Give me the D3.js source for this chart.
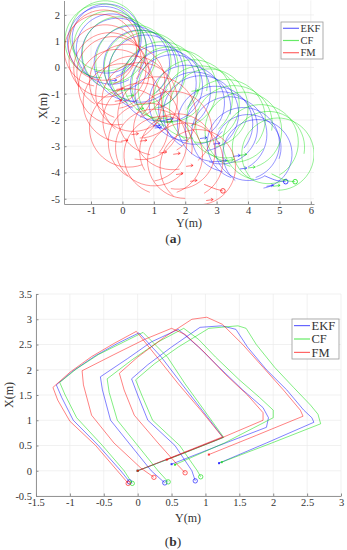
<!DOCTYPE html>
<html>
<head>
<meta charset="utf-8">
<script src="https://cdn.jsdelivr.net/npm/d3@7/dist/d3.min.js"></script>
<style>
  body { margin: 0; background: #fff; }
  text { font-family: 'Liberation Serif', 'DejaVu Serif', serif; fill: #333; }
</style>
</head>
<body>
<svg id="fig" width="347" height="550"></svg>
<script>
const seriesNames = ['EKF', 'CF', 'FM']
const seriesColors = ['#0000ff', '#00dd00', '#ff0000']

// ---- panel (a): circular walks ----
const aXTicks = [-1, 0, 1, 2, 3, 4, 5, 6]
const aYTicks = [-5, -4, -3, -2, -1, 0, 1, 2]

// [centre Y, centre X, radius (Y units), start deg, end deg]
const ekfLoops = [
  [-0.60, 0.95, 1.15, 100, 430], [-0.50, 1.10, 1.10, 150, 470], [-0.35, 0.70, 1.12, 60, 400],
  [-0.15, 0.50, 1.15, 120, 440], [0.30, 0.15, 1.20, 80, 410], [0.55, 0.05, 1.15, 40, 360],
  [0.75, -0.20, 1.20, 110, 430], [1.15, -0.60, 1.20, 70, 400], [1.40, -0.70, 1.15, 150, 460],
  [1.60, -0.95, 1.20, 100, 420], [2.05, -1.35, 1.20, 90, 410], [2.30, -1.55, 1.15, 40, 370],
  [2.50, -1.75, 1.20, 120, 440], [2.95, -2.15, 1.20, 80, 400], [3.15, -2.30, 1.15, 160, 470],
  [3.40, -2.55, 1.20, 100, 420], [3.85, -2.90, 1.15, 110, 430], [4.00, -3.05, 1.05, 60, 380],
  [4.30, -3.30, 1.10, 130, 440]
]
const cfLoops = [
  [-0.65, 1.02, 1.18, 90, 420], [-0.55, 1.20, 1.12, 40, 370], [-0.40, 0.78, 1.15, 130, 450],
  [-0.10, 0.52, 1.18, 70, 400], [0.35, 0.20, 1.20, 100, 420], [0.60, 0.00, 1.18, 150, 460],
  [0.80, -0.12, 1.22, 120, 440], [1.25, -0.48, 1.22, 80, 410], [1.50, -0.65, 1.20, 40, 370],
  [1.75, -0.82, 1.25, 110, 430], [2.25, -1.20, 1.25, 90, 410], [2.50, -1.40, 1.22, 150, 460],
  [2.75, -1.55, 1.25, 120, 440], [3.30, -1.95, 1.25, 80, 400], [3.55, -2.15, 1.22, 40, 370],
  [3.85, -2.40, 1.22, 110, 430], [4.40, -2.85, 1.20, 100, 420], [4.65, -3.05, 1.15, 60, 370],
  [4.95, -3.30, 1.15, 140, 450]
]
const fmLoops = [
  [-0.70, 0.65, 1.15, 100, 430], [-0.60, 0.85, 1.12, 30, 360], [-0.55, 0.25, 1.15, 60, 390],
  [-0.40, -0.05, 1.15, 150, 470], [-0.30, -0.20, 1.15, 120, 440], [-0.20, -0.75, 1.20, 80, 410],
  [0.15, -0.55, 1.20, 110, 430], [0.35, -1.00, 1.20, 40, 370], [0.00, -1.35, 1.25, 90, 420],
  [0.55, -1.25, 1.20, 130, 450], [0.20, -2.30, 1.25, 70, 400], [0.60, -2.05, 1.22, 150, 460],
  [1.10, -1.85, 1.25, 100, 420], [0.80, -2.85, 1.25, 120, 440], [1.00, -3.05, 1.22, 40, 370],
  [1.60, -2.40, 1.25, 80, 410], [1.30, -3.35, 1.25, 110, 430], [1.75, -3.20, 1.20, 150, 460],
  [2.00, -3.55, 1.20, 90, 420], [2.40, -3.80, 1.20, 130, 450]
]

// start arrows
const ekfArrows = [[2.69, -2.67], [3.11, -2.88], [3.75, -3.35], [3.96, -3.83], [4.81, -4.49],
  [3.32, -3.54], [1.25, -2.27], [1.62, -1.95], [-0.18, -0.48], [1.20, -2.20]]
const cfArrows = [[3.96, -3.31], [4.23, -3.79], [5.02, -4.49], [3.54, -3.51], [0.67, -1.56],
  [2.42, -0.87], [0.35, -1.06], [1.60, -2.05]]
const fmArrows = [[1.84, -3.27], [2.25, -3.73], [1.93, -4.04], [2.38, -4.30], [2.89, -5.03],
  [0.51, -2.52], [0.78, -2.77], [0.18, -2.77], [1.41, -3.22], [-0.02, -1.25], [0.03, -0.80]]

// final hooks ending in a circle
const ekfEndA = [[4.52, -4.12], [4.90, -4.30], [5.20, -4.35]]
const cfEndA = [[4.75, -4.05], [5.20, -4.30], [5.50, -4.35]]
const fmEndA = [[2.60, -4.45], [2.95, -4.62], [3.20, -4.70]]

// ---- panel (b): square walks, [Y, X] ----
const bXTicks = [-1.5, -1, -0.5, 0, 0.5, 1, 1.5, 2, 2.5, 3]
const bYTicks = [-0.5, 0, 0.5, 1, 1.5, 2, 2.5, 3, 3.5]

const ekfTrips = [
  [[0, 0], [0.62, 0.32], [1.26, 0.66], [0.95, 1.2], [0.65, 1.72], [0.35, 2.25], [0.02, 2.73],
    [-0.3, 2.52], [-0.62, 2.28], [-0.95, 1.98], [-1.2, 1.70], [-1.12, 1.45], [-0.95, 1.0],
    [-0.58, 0.5], [-0.25, 0.0], [-0.12, -0.22]],
  [[0.5, 0.13], [1.2, 0.5], [1.9, 0.86], [1.93, 1.05], [1.85, 1.25], [1.55, 1.6], [1.2, 2.05],
    [0.9, 2.45], [0.6, 2.8], [0.2, 2.55], [-0.15, 2.22], [-0.55, 1.86], [-0.52, 1.6],
    [-0.4, 1.0], [-0.1, 0.5], [0.2, 0.0], [0.40, -0.24]],
  [[1.2, 0.15], [1.9, 0.55], [2.6, 0.96], [2.57, 1.05], [2.45, 1.2], [2.2, 1.6], [1.9, 2.0],
    [1.62, 2.45], [1.45, 2.8], [1.24, 2.87], [0.92, 2.84], [0.5, 2.45], [0.15, 2.1],
    [-0.09, 1.82], [0.0, 1.5], [0.15, 1.0], [0.55, 0.5], [0.8, 0.0], [0.85, -0.2]]
]
const cfTrips = [
  [[0, 0], [0.63, 0.32], [1.27, 0.66], [0.98, 1.2], [0.70, 1.72], [0.44, 2.25], [0.08, 2.74],
    [-0.25, 2.52], [-0.58, 2.3], [-0.9, 2.02], [-1.15, 1.75], [-1.07, 1.5], [-0.9, 1.05],
    [-0.52, 0.5], [-0.2, 0.0], [-0.08, -0.25]],
  [[0.55, 0.12], [1.28, 0.55], [2.0, 1.05], [2.0, 1.2], [1.8, 1.45], [1.5, 1.8], [1.15, 2.25],
    [0.9, 2.6], [0.68, 2.82], [0.3, 2.55], [-0.08, 2.2], [-0.45, 1.82], [-0.42, 1.55],
    [-0.3, 1.0], [0.0, 0.5], [0.3, 0.0], [0.45, -0.22]],
  [[1.24, 0.17], [1.98, 0.55], [2.70, 0.93], [2.66, 1.12], [2.55, 1.3], [2.3, 1.65], [2.02, 2.05],
    [1.75, 2.5], [1.6, 2.82], [1.48, 2.87], [1.05, 2.82], [0.6, 2.45], [0.25, 2.12],
    [-0.03, 1.80], [0.06, 1.5], [0.22, 1.0], [0.62, 0.5], [0.88, 0.0], [0.93, -0.12]]
]
const fmTrips = [
  [[0, 0], [0.62, 0.33], [1.25, 0.67], [0.93, 1.2], [0.60, 1.72], [0.28, 2.26], [-0.02, 2.76],
    [-0.35, 2.52], [-0.68, 2.26], [-1.0, 1.95], [-1.25, 1.65], [-1.18, 1.4], [-1.0, 0.98],
    [-0.62, 0.5], [-0.3, 0.0], [-0.14, -0.25]],
  [[0.43, 0.22], [1.15, 0.6], [1.85, 1.0], [1.85, 1.15], [1.62, 1.5], [1.3, 1.9], [0.98, 2.35],
    [0.7, 2.7], [0.5, 2.82], [0.1, 2.6], [-0.35, 2.3], [-0.82, 1.98], [-0.8, 1.7],
    [-0.68, 1.1], [-0.35, 0.55], [0.05, 0.05], [0.24, -0.13]],
  [[1.05, 0.32], [1.75, 0.7], [2.44, 1.08], [2.4, 1.2], [2.15, 1.6], [1.85, 2.05], [1.55, 2.5],
    [1.25, 2.9], [1.02, 3.04], [0.8, 3.0], [0.4, 2.65], [0.0, 2.25], [-0.27, 1.93],
    [-0.2, 1.6], [-0.05, 1.1], [0.3, 0.55], [0.6, 0.1], [0.7, -0.04]]
]

const svg = d3.select('#fig')
const serif = "'Liberation Serif', 'DejaVu Serif', serif"

function drawFrame(g, x, y, xTicks, yTicks) {
  const [x0, x1] = x.range()
  const [y0, y1] = y.range()
  g.append('g').selectAll('line').data(xTicks).join('line')
    .attr('x1', d => x(d)).attr('x2', d => x(d)).attr('y1', y0).attr('y2', y1)
    .attr('stroke', '#ebebeb').attr('stroke-width', 0.7)
  g.append('g').selectAll('line').data(yTicks).join('line')
    .attr('x1', x0).attr('x2', x1).attr('y1', d => y(d)).attr('y2', d => y(d))
    .attr('stroke', '#ebebeb').attr('stroke-width', 0.7)

  const xAxis = g.append('g').attr('transform', `translate(0,${y0})`)
    .call(d3.axisBottom(x).tickValues(xTicks).tickSize(-2.5).tickSizeOuter(0).tickPadding(3).tickFormat(d => String(d)))
  const yAxis = g.append('g').attr('transform', `translate(${x0},0)`)
    .call(d3.axisLeft(y).tickValues(yTicks).tickSize(-2.5).tickSizeOuter(0).tickPadding(4).tickFormat(d => String(d)))
  ;[xAxis, yAxis].forEach(a => {
    a.attr('font-family', serif)
    a.select('.domain').attr('stroke', '#8a8a8a').attr('stroke-width', 0.9)
    a.selectAll('.tick line').attr('stroke', '#8a8a8a')
    a.selectAll('.tick text').style('font-family', serif).attr('font-size', 10.5).attr('fill', '#333')
  })
}

function drawLegend(g, lx, ly, w, h, rowGap, fontSize) {
  g.append('rect').attr('x', lx).attr('y', ly).attr('width', w).attr('height', h)
    .attr('fill', '#fff').attr('stroke', '#9a9a9a').attr('stroke-width', 0.8)
  seriesNames.forEach((name, i) => {
    const yy = ly + h / 2 + (i - 1) * rowGap
    g.append('line').attr('x1', lx + 2).attr('x2', lx + 18).attr('y1', yy).attr('y2', yy)
      .attr('stroke', seriesColors[i]).attr('stroke-opacity', 0.6).attr('stroke-width', 1.2)
    g.append('text').attr('x', lx + 19.5).attr('y', yy).attr('dy', '0.35em')
      .attr('font-size', fontSize).text(name)
  })
}

function caption(letter, cx, cy) {
  const t = svg.append('text').attr('x', cx).attr('y', cy).attr('text-anchor', 'middle')
    .attr('font-size', 13.5).attr('fill', '#111')
  t.append('tspan').text('(')
  t.append('tspan').attr('font-weight', 'bold').text(letter)
  t.append('tspan').text(')')
}

function axisLabels(xLabelX, xLabelY, yLabelX, yLabelY) {
  svg.append('text').attr('x', xLabelX).attr('y', xLabelY).attr('text-anchor', 'middle')
    .attr('font-size', 12).text('Y(m)')
  svg.append('text').attr('transform', `translate(${yLabelX},${yLabelY}) rotate(-90)`)
    .attr('text-anchor', 'middle').attr('font-size', 12).text('X(m)')
}

// ---------- (a) ----------
const xa = d3.scaleLinear().domain([-1.86, 6.1]).range([64, 314])
const ya = d3.scaleLinear().domain([-5.2, 2.55]).range([204, 0.5])
const ga = svg.append('g')
drawFrame(ga, xa, ya, aXTicks, aYTicks)

svg.append('clipPath').attr('id', 'clipA').append('rect')
  .attr('x', 64).attr('y', 0).attr('width', 250).attr('height', 204)

const loopSets = [ekfLoops, cfLoops, fmLoops]
const arrowSets = [ekfArrows, cfArrows, fmArrows]
const endSetsA = [ekfEndA, cfEndA, fmEndA]
const lineA = d3.line().x(d => xa(d[0])).y(d => ya(d[1])).curve(d3.curveCatmullRom)

const plotA = ga.append('g').attr('clip-path', 'url(#clipA)')
loopSets.forEach((loops, s) => {
  plotA.append('g').selectAll('path').data(loops).join('path')
    .attr('d', d => {
      const p = d3.path()
      p.arc(xa(d[0]), ya(d[1]), xa(d[0] + d[2]) - xa(d[0]), d[3] * Math.PI / 180, d[4] * Math.PI / 180)
      return p.toString()
    })
    .attr('fill', 'none').attr('stroke', seriesColors[s]).attr('stroke-opacity', 0.55).attr('stroke-width', 0.75)

  plotA.append('g').selectAll('path').data(arrowSets[s]).join('path')
    .attr('d', d => {
      const px = xa(d[0]), py = ya(d[1])
      return `M${px - 7},${py + 1}L${px},${py}M${px - 2.3},${py - 1.5}L${px},${py}L${px - 2.3},${py + 1.5}`
    })
    .attr('fill', 'none').attr('stroke', seriesColors[s]).attr('stroke-opacity', 0.65).attr('stroke-width', 0.8)

  const end = endSetsA[s]
  plotA.append('path').attr('d', lineA(end))
    .attr('fill', 'none').attr('stroke', seriesColors[s]).attr('stroke-opacity', 0.65).attr('stroke-width', 0.8)
  plotA.append('circle').attr('cx', xa(end[end.length - 1][0])).attr('cy', ya(end[end.length - 1][1])).attr('r', 2.3)
    .attr('fill', 'none').attr('stroke', seriesColors[s]).attr('stroke-opacity', 0.8).attr('stroke-width', 0.9)
})

drawLegend(ga, 281, 22, 42, 37, 12.2, 10.5)
axisLabels(189, 227, 47, 106)
caption('a', 173, 243)

// ---------- (b) ----------
const xb = d3.scaleLinear().domain([-1.5, 3]).range([36, 341])
const yb = d3.scaleLinear().domain([-0.5, 3.5]).range([496, 294])
const gb = svg.append('g')
drawFrame(gb, xb, yb, bXTicks, bYTicks)

const tripSets = [ekfTrips, cfTrips, fmTrips]
const lineB = d3.line().x(d => xb(d[0])).y(d => yb(d[1]))
tripSets.forEach((trips, s) => {
  gb.append('g').selectAll('path').data(trips).join('path')
    .attr('d', lineB)
    .attr('fill', 'none').attr('stroke', seriesColors[s]).attr('stroke-opacity', 0.58)
    .attr('stroke-width', 0.85).attr('stroke-linejoin', 'round')
  gb.append('g').selectAll('circle').data(trips).join('circle')
    .attr('cx', d => xb(d[d.length - 1][0])).attr('cy', d => yb(d[d.length - 1][1])).attr('r', 2.2)
    .attr('fill', 'none').attr('stroke', seriesColors[s]).attr('stroke-opacity', 0.75).attr('stroke-width', 0.8)
  gb.append('g').selectAll('rect').data(trips).join('rect')
    .attr('x', d => xb(d[0][0]) - 1).attr('y', d => yb(d[0][1]) - 1).attr('width', 2).attr('height', 2)
    .attr('fill', seriesColors[s]).attr('fill-opacity', 0.75)
})

drawLegend(gb, 292, 319, 47, 40, 13.4, 12.5)
axisLabels(188, 522, 13, 395)
caption('b', 173, 546)
</script>
</body>
</html>
